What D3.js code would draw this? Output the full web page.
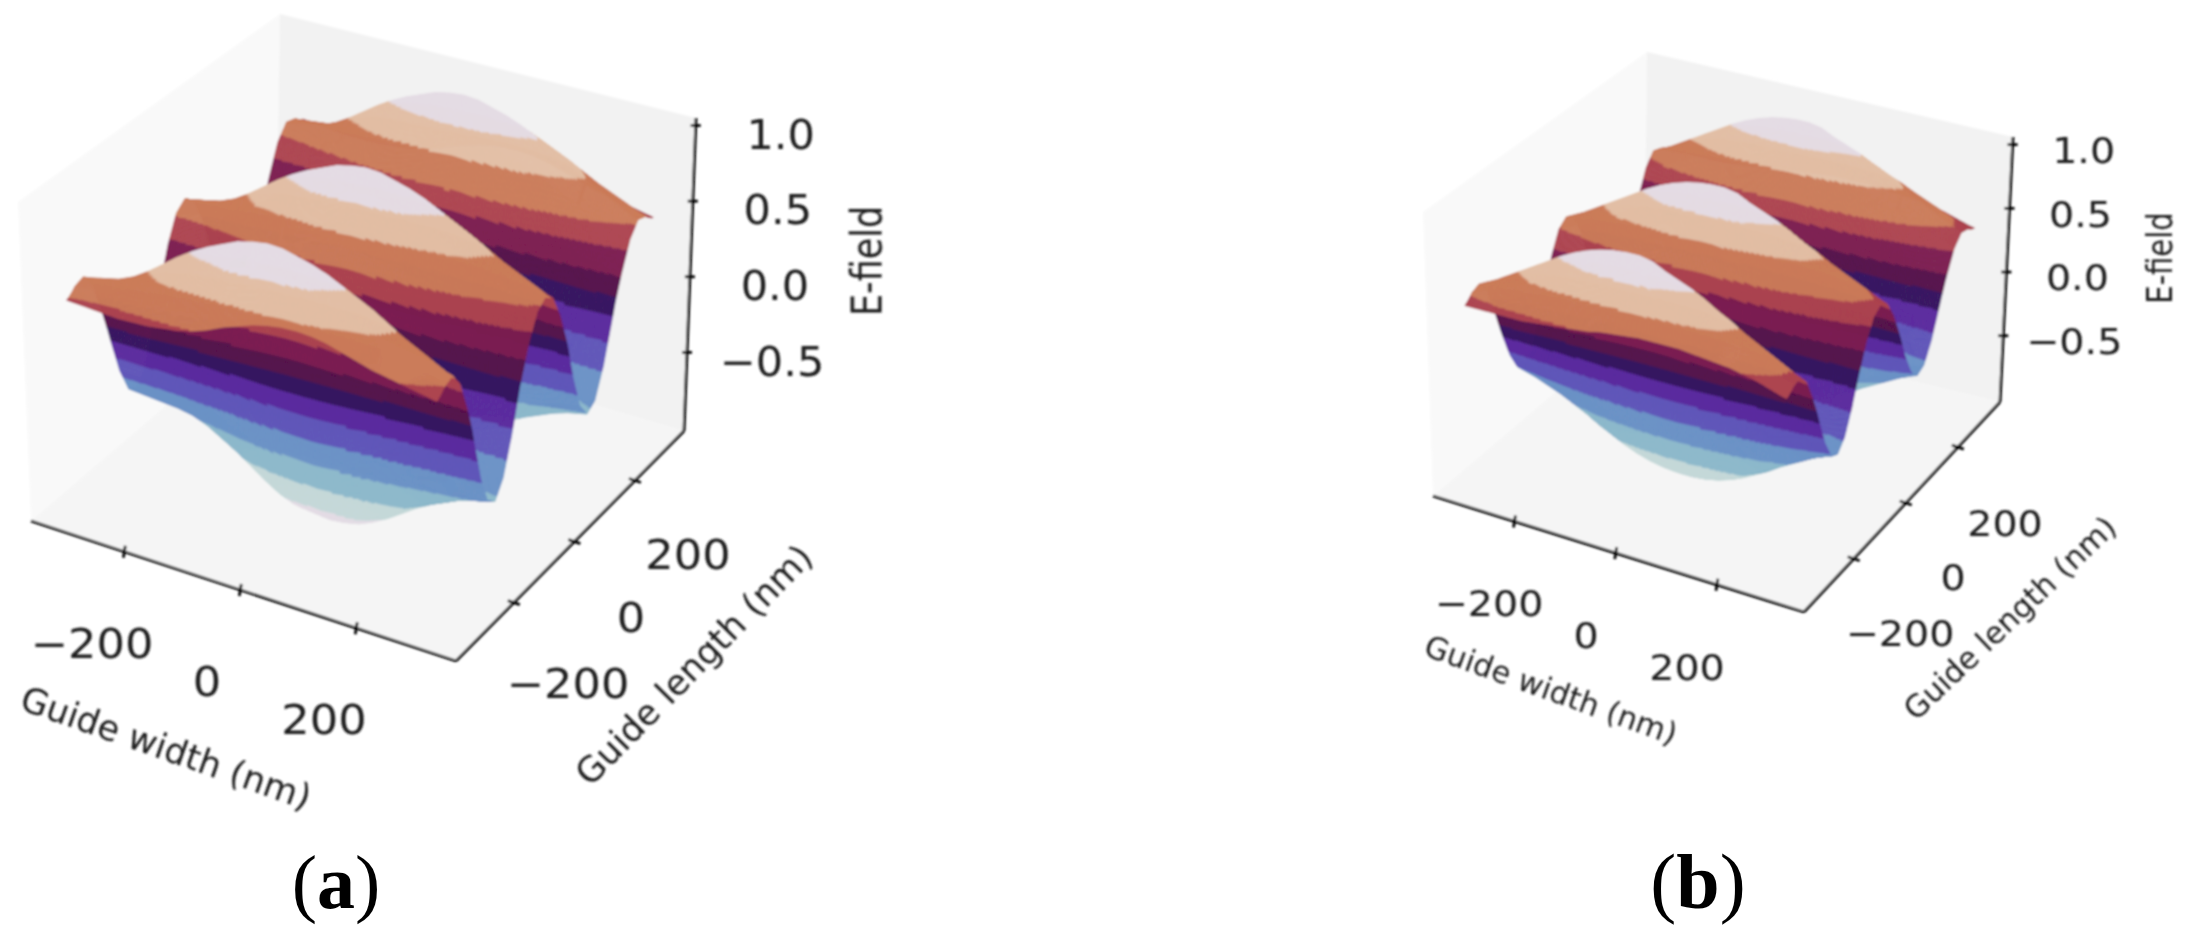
<!DOCTYPE html>
<html><head><meta charset="utf-8">
<script src="https://cdn.jsdelivr.net/npm/d3@7/dist/d3.min.js"></script>
<style>html,body{margin:0;padding:0;background:#fff}svg{display:block}</style>
</head><body>
<script>
// ---- data ----
const widthNm  = [-325,-300,-275,-250,-225,-200,-175,-150,-125,-100,-75,-50,-25,0,25,50,75,100,125,150,175,200,225,250,275,300,325];
const crestA   = [.47,.48,.50,.52,.56,.62,.69,.76,.82,.87,.91,.95,.97,.98,.97,.94,.91,.87,.82,.77,.72,.66,.60,.55,.50,.45,.42];
const troughA  = [.52,.53,.54,.55,.56,.58,.62,.68,.74,.81,.88,.94,.98,.99,1,.99,.97,.93,.88,.82,.76,.71,.67,.63,.60,.58,.56];
const edgeA    = [.40,.39,.38,.37,.36,.36,.36,.37,.38,.40,.43,.47,.50,.53,.55,.56,.56,.55,.53,.50,.47,.44,.42,.40,.38,.36,.34];
const crestB   = [.42,.47,.52,.58,.64,.70,.76,.82,.87,.91,.94,.96,.97,.97,.95,.90,.86,.82,.77,.71,.66,.60,.55,.50,.45,.40,.36];
const troughB  = [.40,.43,.46,.50,.54,.59,.64,.70,.75,.80,.84,.87,.89,.90,.90,.89,.87,.84,.80,.75,.70,.64,.59,.54,.49,.45,.42];
const edgeB    = [.36,.36,.36,.36,.36,.36,.37,.38,.39,.40,.41,.43,.44,.45,.46,.46,.46,.46,.45,.44,.43,.42,.40,.38,.35,.32,.30];
const lengthNm = [-350,-325,-300,-275,-250,-225,-200,-175,-150,-125,-100,-75,-50,-25,0,25,50,75,100,125,150,175,200,225,250,275,300,325,350];
const wave     = [.90,.96,.97,.77,.35,-.15,-.61,-.92,-.99,-.82,-.44,.05,.53,.87,.98,.87,.53,.05,-.44,-.82,-.99,-.92,-.61,-.15,.35,.77,.97,.96,.90];
const edgeWeight= [1,.25,0,0,0,0,0,0,0,0,0,0,0,0,0,0,0,0,0,0,0,0,0,0,0,0,0,.25,1];
const bandLimits = [-.88,-.72,-.55,-.38,-.22,-.08,.03,.14,.28,.40,.60,.78];
const bandColors = ["#e3dbe4","#c5d8d9","#8db8cb","#6c92c6","#6056b8","#5a2a9e","#35145f","#55124b","#7c1e50","#ad4550","#cb7c5a","#e2bfa6","#e4dce4"];
const xTicks = [-200,0,200];
const yTicks = [-200,0,200];
const zTicks = [-0.5,0,0.5,1];
const xLabel = "Guide width (nm)";
const yLabel = "Guide length (nm)";
const zLabel = "E-field";

const panelA = {
  name:"a", crest:crestA, trough:troughA, edge:edgeA, zDomain:[-1.02,1.05],
  c000:[31,521], c100:[456,661], c110:[684,431], c010:[275,312],
  c001:[18,202], c101:[464,300], c111:[696,118], c011:[280,14],
  tickFont:41, labelFont:35, zOff:[85,9], xySx:1.09, zSx:1.05,
  xLab:[[92,644],[207,682],[324,720]], yLab:[[568,684],[631,618],[688,555]],
  xTitle:[166,748,19.4], yTitle:[694,665,-45.5], zTitle:[867,261],zTitleFont:35,
  tag:[336,908], tagFont:76
};
const panelB = {
  name:"b", crest:crestB, trough:troughB, edge:edgeB, zDomain:[-1.02,1.06],
  c000:[1433,496], c100:[1804,612], c110:[2000,402], c010:[1644,317],
  c001:[1423,212], c101:[1810,308], c111:[2013,137], c011:[1647,52],
  tickFont:36, labelFont:30.5, zOff:[71,6], xySx:1.1, zSx:1.1,
  xLab:[[1489,604],[1586,636],[1687,668]], yLab:[[1900,634],[1953,578],[2005,524]],
  xTitle:[1551,690,19.8], yTitle:[2010,618,-43.5], zTitle:[2160,258],zTitleFont:29,
  tag:[1698,908], tagFont:78
};

const svg = d3.select("body").append("svg").attr("width",2192).attr("height",946);
const defs = svg.append("defs");
defs.append("filter").attr("id","soft").attr("x","-5%").attr("y","-5%").attr("width","110%").attr("height","110%")
  .append("feGaussianBlur").attr("stdDeviation",0.8);

const xScale = d3.scaleLinear().domain([-361,372]).range([0,1]);
const yScale = d3.scaleLinear().domain([-391,362]).range([0,1]);
const colorOf = d3.scaleThreshold().domain(bandLimits).range(bandColors);
const line = d3.line();

function drawPanel(p){
  const zScale = d3.scaleLinear().domain(p.zDomain).range([0,1]);
  const lerp=(a,b,t)=>[a[0]+(b[0]-a[0])*t,a[1]+(b[1]-a[1])*t];
  const project=(u,v,w)=>{
    const bot=lerp(lerp(p.c000,p.c100,u),lerp(p.c010,p.c110,u),v);
    const top=lerp(lerp(p.c001,p.c101,u),lerp(p.c011,p.c111,u),v);
    return lerp(bot,top,w);
  };
  const g = svg.append("g").attr("filter","url(#soft)");
  // panes
  const pane=(pts,fill)=>g.append("path").attr("d",line(pts)+"Z").attr("fill",fill);
  pane([p.c000,p.c001,p.c011,p.c010],"#f9f9f9");
  pane([p.c010,p.c011,p.c111,p.c110],"#f2f2f2");
  pane([p.c000,p.c100,p.c110,p.c010],"#f5f5f5");
  // surface through library scales
  const cX=d3.scaleLinear().domain(widthNm).range(p.crest);
  const tX=d3.scaleLinear().domain(widthNm).range(p.trough);
  const eX=d3.scaleLinear().domain(widthNm).range(p.edge);
  const wY=d3.scaleLinear().domain(lengthNm).range(wave);
  const lY=d3.scaleLinear().domain(lengthNm).range(edgeWeight);
  const meshX=d3.range(-310,310.01,5), meshY=d3.range(-350,350.01,1);
  const field=(x,y)=>{const w=wY(y),l=lY(y);return (w>=0?cX(x):tX(x))*w*(1-l)+eX(x)*l;};
  const uOf=meshX.map(xScale), vOf=meshY.map(yScale);
  const grid=meshX.map((x,i)=>meshY.map((y,j)=>{
    const z=field(x,y),w=zScale(z);
    return {z,w,s:project(uOf[i],vOf[j],w)};
  }));
  const quads=[];
  for(let i=0;i<meshX.length-1;i++)for(let j=0;j<meshY.length-1;j++){
    const a=grid[i][j],b=grid[i+1][j],c=grid[i+1][j+1],d=grid[i][j+1];
    const mu=(uOf[i]+uOf[i+1])/2,mv=(vOf[j]+vOf[j+1])/2,mw=(a.w+b.w+c.w+d.w)/4;
    quads.push({a:a.s,b:b.s,c:c.s,d:d.s,depth:8.6*mu-16*mv+8.9*mw,z:(a.z+b.z+c.z+d.z)/4});
  }
  quads.sort((q,r)=>q.depth-r.depth);
  const f=n=>n.toFixed(1);
  const runs=[];
  quads.forEach(q=>{
    const col=colorOf(q.z), last=runs[runs.length-1];
    const d=`M${f(q.a[0])} ${f(q.a[1])}L${f(q.b[0])} ${f(q.b[1])}L${f(q.c[0])} ${f(q.c[1])}L${f(q.d[0])} ${f(q.d[1])}Z`;
    if(last&&last.c===col) last.d.push(d); else runs.push({c:col,d:[d]});
  });
  g.append("g").selectAll("path").data(runs).join("path")
    .attr("d",r=>r.d.join("")).attr("fill",r=>r.c).attr("stroke",r=>r.c).attr("stroke-width",0.6).attr("stroke-linejoin","round");
  // axes
  const ink="#000";
  const axis=(a,b)=>g.append("path").attr("d",line([a,b])).attr("stroke",ink).attr("stroke-width",2.8).attr("fill","none");
  axis(p.c000,p.c100); axis(p.c100,p.c110); axis(p.c110,p.c111);
  xTicks.forEach(t=>{const a=project(xScale(t),0,0);axis([a[0]+1,a[1]-6],[a[0]-1,a[1]+6]);});
  yTicks.forEach(t=>{const a=project(1,yScale(t),0);axis([a[0]-6,a[1]-2],[a[0]+6,a[1]+2]);});
  zTicks.forEach(t=>{const a=project(1,1,zScale(t));axis([a[0]-5,a[1]],[a[0]+5,a[1]]);});
  // text
  const tg=svg.append("g").attr("font-family","'DejaVu Sans'").attr("fill","#1c1c1c").attr("filter","url(#soft)");
  const fmt=v=>String(v).replace("-","\u2212");
  const label=(s,x,y,size,rot,sx)=>tg.append("text").text(s).attr("font-size",size).attr("text-anchor","middle")
    .attr("dominant-baseline","central").attr("transform",`translate(${x},${y})${rot?` rotate(${rot})`:""}${sx?` scale(${sx},1)`:""}`);
  xTicks.forEach((t,i)=>label(fmt(t),p.xLab[i][0],p.xLab[i][1],p.tickFont,0,p.xySx));
  yTicks.forEach((t,i)=>label(fmt(t),p.yLab[i][0],p.yLab[i][1],p.tickFont,0,p.xySx));
  zTicks.forEach(t=>{const a=project(1,1,zScale(t));
    const s=t===0?"0.0":t===1?"1.0":fmt(t);
    label(s,a[0]+p.zOff[0],a[1]+p.zOff[1],p.tickFont,0,p.zSx);});
  label(xLabel,p.xTitle[0],p.xTitle[1],p.labelFont,p.xTitle[2]);
  label(yLabel,p.yTitle[0],p.yTitle[1],p.labelFont,p.yTitle[2]);
  tg.append("text").text(zLabel).attr("font-size",p.zTitleFont).attr("text-anchor","middle").attr("dominant-baseline","central")
    .attr("transform",`translate(${p.zTitle[0]},${p.zTitle[1]}) rotate(-90) scale(1,1.2)`);
  // panel tag
  const tag=svg.append("text").attr("font-family","'Liberation Serif'").attr("font-size",p.tagFont).attr("fill","#000")
    .attr("text-anchor","middle").attr("x",p.tag[0]).attr("y",p.tag[1]);
  tag.append("tspan").text("(");
  tag.append("tspan").attr("font-weight","bold").text(p.name);
  tag.append("tspan").text(")");
}
drawPanel(panelA);
drawPanel(panelB);
</script>
</body></html>
